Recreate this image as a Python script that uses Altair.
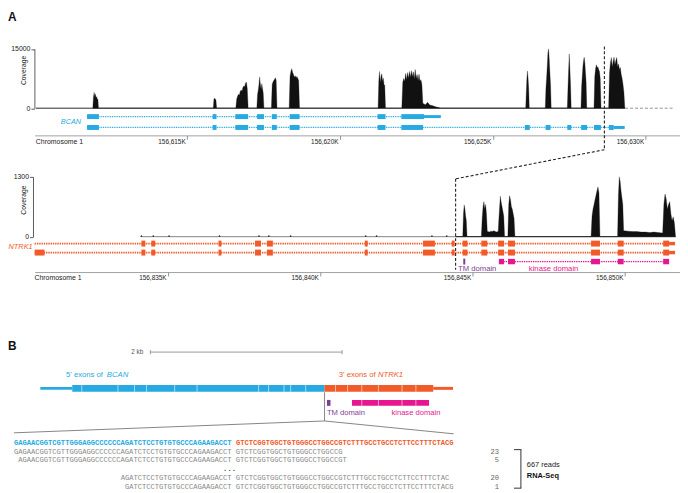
import altair as alt
import numpy as np
import pandas as pd

# ---------------------------------------------------------------- colours
BCAN_C = "#27aae1"
NTRK_C = "#f15a29"
TM_C = "#7e3f98"
KIN_C = "#e6168f"
INK = "#111111"
GREY = "#8a8a8a"

# ---------------------------------------------------------------- panel A, BCAN locus (kb on chromosome 1)
bcan_cov_peaks = [  # (start kb, end kb, coverage read along the peak)
    (156611.913, 156612.100, [0, 2800, 4000, 3000, 3600, 2700, 2900, 2400, 2200, 0]),
    (156615.854, 156615.964, [0, 2300, 2500, 2300, 2000, 0]),
    (156616.591, 156616.995, [0, 2300, 3000, 3500, 3300, 4200, 4600, 4300, 5200, 5600, 5400, 6300, 6600, 5000, 0]),
    (156617.279, 156617.512, [0, 3500, 4500, 6000, 7900, 6000, 4800, 6200, 5000, 3800, 0]),
    (156617.755, 156617.939, [0, 6000, 6600, 7000, 7300, 7700, 7000, 0]),
    (156618.337, 156618.676, [0, 8000, 9300, 10000, 9000, 8500, 7800, 8200, 7700, 8000, 7500, 7000, 0]),
    (156621.246, 156621.489, [0, 7000, 9300, 6500, 8000, 8700, 6800, 7600, 6000, 5800, 0]),
    (156622.022, 156622.711, [0, 6500, 7500, 6800, 8800, 7200, 9000, 7600, 9300, 7800, 9500, 8000,
                              9200, 7400, 9800, 7600, 8500, 7000, 8600, 6800, 7200, 6000, 1200]),
    (156622.720, 156623.300, [1200, 900, 1500, 800, 700, 500, 300, 150, 0]),
    (156626.076, 156626.193, [0, 4000, 7500, 9400, 7500, 5000, 0]),
    (156626.716, 156626.910, [0, 5000, 7500, 10500, 14000, 15000, 12500, 9000, 6000, 0]),
    (156627.437, 156627.564, [0, 5000, 9500, 13700, 10000, 6000, 0]),
    (156627.884, 156628.074, [0, 5500, 8000, 10500, 12000, 12900, 11500, 9000, 6500, 0]),
    (156628.310, 156628.540, [0, 8000, 10000, 11000, 10200, 10500, 9800, 9300, 7500, 0]),
    (156628.789, 156629.319, [0, 9000, 11500, 12800, 10500, 11800, 12900, 11000, 12000, 12800, 10500,
                              11200, 9800, 10300, 8500, 7500, 6000, 4000, 0]),
]
bcan_tx = [(1, 156611.725, 156623.299), (2, 156611.725, 156629.313)]
bcan_shared_exons = [(156611.725, 156612.113), (156615.831, 156615.960), (156616.575, 156616.995),
                     (156617.286, 156617.512), (156617.771, 156617.932), (156618.353, 156618.676),
                     (156621.230, 156621.489)]
bcan_tx1_exons = [(156622.006, 156622.749)]
bcan_tx1_utr = [(156622.749, 156623.299)]
bcan_tx2_exons = [(156622.006, 156622.717), (156626.047, 156626.209), (156626.726, 156626.888),
                  (156627.437, 156627.567), (156627.890, 156628.084), (156628.310, 156628.537),
                  (156628.795, 156628.957)]
bcan_tx2_utr = [(156628.957, 156629.313)]
bcan_baseline = (156610.05, 156629.33)
bcan_baseline_tail = (156629.33, 156630.95)
bcan_breakpoint = 156628.65
bcan_ticks = [156615, 156620, 156625, 156630]

# ---------------------------------------------------------------- panel A, NTRK1 locus
ntrk_cov_peaks = [
    (156844.675, 156844.815, [0, 500, 690, 600, 450, 350, 0]),
    (156845.285, 156845.480, [0, 400, 650, 760, 600, 700, 500, 110]),
    (156845.500, 156845.840, [110, 100, 120, 110, 130, 110, 100, 120]),
    (156845.853, 156846.048, [300, 600, 880, 750, 650, 550, 450, 0]),
    (156846.155, 156846.388, [0, 700, 890, 800, 650, 600, 500, 400, 0]),
    (156848.887, 156849.179, [0, 450, 600, 700, 800, 900, 1000, 1080, 950, 0]),
    (156849.757, 156849.957, [0, 900, 1300, 1200, 1000, 850, 700, 130]),
    (156849.970, 156851.230, [130, 120, 110, 110, 100, 100, 90, 100, 90, 80]),
    (156851.239, 156851.661, [90, 700, 925, 820, 600, 700, 760, 500, 350, 430, 300, 0]),
]
ntrk_blips = [156834.124, 156834.513, 156835.032, 156836.687, 156837.985, 156838.309,
              156839.023, 156841.489, 156841.846, 156843.663, 156844.150]
ntrk_blip_cov = 25
ntrk_tx = [(1, 156830.620, 156851.645), (2, 156830.620, 156851.645)]
ntrk_tx2_first = [(156830.620, 156830.944)]
ntrk_shared_exons = [(156834.124, 156834.254), (156834.448, 156834.578), (156836.655, 156836.752),
                     (156837.855, 156838.050), (156838.244, 156838.439), (156841.457, 156841.554),
                     (156843.371, 156843.760), (156844.312, 156844.409), (156844.669, 156844.831),
                     (156845.285, 156845.480), (156845.837, 156846.031), (156846.161, 156846.388),
                     (156848.887, 156849.179), (156849.763, 156849.957), (156851.255, 156851.450)]
ntrk_utr = [(156851.450, 156851.645)]
kinase_span = (156845.860, 156851.450)
kinase_blocks = [(156845.860, 156846.031), (156846.161, 156846.388), (156848.887, 156849.179),
                 (156849.763, 156849.957), (156851.255, 156851.450)]
tm_block = (156844.692, 156844.757)
ntrk_breakpoint = 156844.44
ntrk_ticks = [156835, 156840, 156845, 156850]

# ---------------------------------------------------------------- panel B, fusion transcript (bp)
fusion_segments = [("BCAN", 0, 333, "utr"), ("BCAN", 333, 2965, "cds"),
                   ("NTRK1", 2965, 4099, "cds"), ("NTRK1", 4099, 4305, "utr")]
fusion_exon_bounds = [433, 810, 983, 1109, 1402, 1635, 2278, 2382, 2542, 2612, 2769,
                      3079, 3206, 3354, 3526, 3773, 3918]
fusion_breakpoint = 2965
fusion_length = 4305
fusion_tm = (2990, 3027)
fusion_kinase = (3251, 4055)
fusion_kinase_bounds = [3354, 3526, 3773, 3918]
scale_bar = (1148, 3148)

ref_bcan = "GAGAACGGTCGTTGGGAGGCCCCCCAGATCTCCTGTGTGCCCAGAAGACCT"
ref_ntrk = "GTCTCGGTGGCTGTGGGCCTGGCCGTCTTTGCCTGCCTCTTCCTTTCTACG"
read_texts = [
    "GAGAACGGTCGTTGGGAGGCCCCCCAGATCTCCTGTGTGCCCAGAAGACCT GTCTCGGTGGCTGTGGGCCTGGCCG",
    "AGAACGGTCGTTGGGAGGCCCCCCAGATCTCCTGTGTGCCCAGAAGACCT GTCTCGGTGGCTGTGGGCCTGGCCGT",
    "AGATCTCCTGTGTGCCCAGAAGACCT GTCTCGGTGGCTGTGGGCCTGGCCGTCTTTGCCTGCCTCTTCCTTTCTAC",
    "GATCTCCTGTGTGCCCAGAAGACCT GTCTCGGTGGCTGTGGGCCTGGCCGTCTTTGCCTGCCTCTTCCTTTCTACG",
]
read_start_char = [0, 1, 25, 26]
read_row = [1, 2, 4, 5]
read_counts = ["23", "5", "20", "1"]
seq_line_chars = 103

# ---------------------------------------------------------------- layout (scale ranges, px)
W, H = 680, 485
X_RNG = [27, 680]
X1_DOM = [156610.011, 156631.124]
X2_DOM = [156830.620, 156851.807]
X3_DOM = [0, fusion_length]
X3_RNG = [32.7, 450.3]
X4_DOM = [0, seq_line_chars]
X4_RNG = [6, 450.96]


def qs(dom, rng):
    return alt.Scale(domain=dom, range=rng, nice=False, zero=False)


def peaks_frame(peaks):
    rows = []
    for s, e, vals in peaks:
        for x, v in zip(np.linspace(s, e, len(vals)), vals):
            rows.append({"pos": float(x), "cov": v})
    return pd.DataFrame(rows).sort_values("pos")


def seg_frame(segs, row, **extra):
    d = pd.DataFrame(segs, columns=["start", "end"])
    d["row"] = row
    for k, v in extra.items():
        d[k] = v
    return d


def gaxis(values, offset, title_x):
    return alt.Axis(values=values, orient="bottom", offset=offset,
                    labelExpr="format(datum.value, ',') + 'K'", labelAlign="right",
                    labelBaseline="middle", labelOffset=-2, labelPadding=2, labelFontSize=6.5,
                    labelColor="#222", labelFont="Liberation Sans", labelFlush=False,
                    labelOverlap=False, tickSize=4, tickColor="#777", tickWidth=0.8,
                    domainColor="#8a8a8a", domainWidth=0.8, grid=False, title="Chromosome 1",
                    titleX=title_x, titleY=6, titleAlign="left", titleBaseline="middle",
                    titleFontSize=7, titleFontWeight="normal", titleColor="#222",
                    titleFont="Liberation Sans")


def caxis(values, offset, title_x, title_y):
    return alt.Axis(values=values, orient="left", offset=offset, format="d",
                    labelFontSize=7, labelPadding=1, labelColor="#222", labelFont="Liberation Sans",
                    tickSize=3.5, tickColor="#333", tickWidth=0.8, domainColor="#333",
                    domainWidth=0.8, grid=False, title="Coverage", titleX=title_x, titleY=title_y,
                    titleAngle=270, titleAlign="center", titleBaseline="middle", titleFontSize=6.8,
                    titleFontWeight="normal", titleColor="#222", titleFont="Liberation Sans")


def label(text, x, y, size, color="#222", align="left", weight="normal", style="normal",
          font="Liberation Sans"):
    return alt.Chart(pd.DataFrame({"t": [text]})).mark_text(
        align=align, baseline="middle", fontSize=size, color=color, fontWeight=weight,
        fontStyle=style, font=font).encode(x=alt.value(x), y=alt.value(y), text="t:N")


def rules(df, xdom, ydom, yrng, width, color, dash=None, xrng=X_RNG):
    kw = dict(strokeWidth=width, color=color)
    if dash:
        kw["strokeDash"] = dash
    return alt.Chart(df).mark_rule(**kw).encode(
        x=alt.X("start:Q", scale=qs(xdom, xrng), axis=None),
        x2="end:Q",
        y=alt.Y("row:Q", scale=qs(ydom, yrng), axis=None))


layers = []

# ================= Panel A : BCAN
Y1COV = ([0, 15000], [98.5, 38.5])
Y1ROW = ([1, 2], [107, 118])
layers.append(alt.Chart(peaks_frame(bcan_cov_peaks)).mark_area(
    color=INK, interpolate="linear", stroke=INK, strokeWidth=0.3).encode(
    x=alt.X("pos:Q", scale=qs(X1_DOM, X_RNG), axis=gaxis(bcan_ticks, 126 - H, 27.7)),
    y=alt.Y("cov:Q", scale=qs(*Y1COV), stack=None, axis=caxis([0, 15000], -26.7, -11.4, 59.8))))
layers.append(rules(pd.DataFrame([{"start": bcan_baseline[0], "end": bcan_baseline[1], "row": 0}]),
                    X1_DOM, *Y1COV, 0.9, INK))
layers.append(rules(pd.DataFrame([{"start": bcan_baseline_tail[0], "end": bcan_baseline_tail[1], "row": 0}]),
                    X1_DOM, *Y1COV, 0.8, "#777", dash=[3, 2]))
layers.append(rules(pd.DataFrame(bcan_tx, columns=["row", "start", "end"]),
                    X1_DOM, *Y1ROW, 1.2, BCAN_C, dash=[1, 0.8]))
bcan_cds = pd.concat([seg_frame(bcan_shared_exons, 1), seg_frame(bcan_shared_exons, 2),
                      seg_frame(bcan_tx1_exons, 1), seg_frame(bcan_tx2_exons, 2)])
bcan_utr = pd.concat([seg_frame(bcan_tx1_utr, 1), seg_frame(bcan_tx2_utr, 2)])
layers.append(rules(bcan_cds, X1_DOM, *Y1ROW, 5, BCAN_C))
layers.append(rules(bcan_utr, X1_DOM, *Y1ROW, 3, BCAN_C))
layers.append(label("BCAN", 63.7, 112.7, 7.4, color=BCAN_C, align="center", style="italic"))
layers.append(label("A", 0, 6.5, 12, color="#111", weight="bold"))

# connector: BCAN breakpoint -> NTRK1 breakpoint
ntrk_bp_in_x1 = X1_DOM[0] + (ntrk_breakpoint - X2_DOM[0]) * (X1_DOM[1] - X1_DOM[0]) / (X2_DOM[1] - X2_DOM[0])
dash_kw = dict(strokeDash=[3, 2], strokeWidth=1.1, color="#222")
layers.append(alt.Chart(pd.DataFrame({"bp": [bcan_breakpoint]})).mark_rule(**dash_kw).encode(
    x=alt.X("bp:Q", scale=qs(X1_DOM, X_RNG), axis=None), y=alt.value(36), y2=alt.value(140.5)))
layers.append(alt.Chart(pd.DataFrame({"bp": [bcan_breakpoint], "bp2": [ntrk_bp_in_x1]})).mark_rule(**dash_kw).encode(
    x=alt.X("bp:Q", scale=qs(X1_DOM, X_RNG), axis=None), x2="bp2:Q", y=alt.value(140.5), y2=alt.value(170)))

# ================= Panel A : NTRK1
Y2COV = ([0, 1300], [228.5, 168])
Y2ROW = ([1, 3], [235.5, 253.7])
blip_peaks = [(c - 0.03, c + 0.03, [0, ntrk_blip_cov, ntrk_blip_cov, 0]) for c in ntrk_blips]
layers.append(alt.Chart(peaks_frame(blip_peaks + ntrk_cov_peaks)).mark_area(
    color=INK, interpolate="linear", stroke=INK, strokeWidth=0.3).encode(
    x=alt.X("pos:Q", scale=qs(X2_DOM, X_RNG), axis=gaxis(ntrk_ticks, 264.3 - H, 26.3)),
    y=alt.Y("cov:Q", scale=qs(*Y2COV), stack=None, axis=caxis([0, 1300], -25.3, -10, 191))))
layers.append(rules(pd.DataFrame([{"start": ntrk_breakpoint, "end": ntrk_cov_peaks[-1][1], "row": 0}]),
                    X2_DOM, *Y2COV, 0.9, INK))
layers.append(rules(pd.DataFrame(ntrk_tx, columns=["row", "start", "end"]),
                    X2_DOM, *Y2ROW, 1.8, NTRK_C, dash=[1.4, 0.9]))
ntrk_cds = pd.concat([seg_frame(ntrk_shared_exons, 1), seg_frame(ntrk_shared_exons, 2),
                      seg_frame(ntrk_tx2_first, 2)])
ntrk_utr_df = pd.concat([seg_frame(ntrk_utr, 1), seg_frame(ntrk_utr, 2)])
layers.append(rules(ntrk_cds, X2_DOM, *Y2ROW, 6, NTRK_C))
layers.append(rules(ntrk_utr_df, X2_DOM, *Y2ROW, 3.5, NTRK_C))
layers.append(rules(seg_frame([kinase_span], 3), X2_DOM, *Y2ROW, 1.4, KIN_C, dash=[1.4, 0.9]))
layers.append(rules(seg_frame(kinase_blocks, 3), X2_DOM, *Y2ROW, 5.5, KIN_C))
layers.append(rules(seg_frame([tm_block], 3), X2_DOM, *Y2ROW, 6, TM_C))
layers.append(label("NTRK1", 25, 238.7, 7.5, color=NTRK_C, align="right", style="italic"))
layers.append(label("TM domain", 455.3, 261.3, 7.8, color=TM_C))
layers.append(label("kinase domain", 527, 261.3, 7.8, color=KIN_C))
layers.append(alt.Chart(pd.DataFrame({"bp": [ntrk_breakpoint]})).mark_rule(**dash_kw).encode(
    x=alt.X("bp:Q", scale=qs(X2_DOM, X_RNG), axis=None), y=alt.value(170), y2=alt.value(262)))

# ================= Panel B : fusion transcript
Y3ROW = ([1, 2], [382, 396.7])
layers.append(label("B", 0, 339, 12, color="#111", weight="bold"))
sb = pd.DataFrame([{"start": scale_bar[0], "end": scale_bar[1]}])
layers.append(alt.Chart(sb).mark_rule(color="#999", strokeWidth=1).encode(
    x=alt.X("start:Q", scale=qs(X3_DOM, X3_RNG), axis=None), x2="end:Q", y=alt.value(345.3)))
layers.append(alt.Chart(pd.DataFrame({"bp": list(scale_bar)})).mark_rule(color="#999", strokeWidth=1).encode(
    x=alt.X("bp:Q", scale=qs(X3_DOM, X3_RNG), axis=None), y=alt.value(343.3), y2=alt.value(347.5)))
layers.append(label("2 kb", 137, 345.3, 6.5, color="#555", align="right"))
layers.append(label("5' exons of", 58.7, 368.7, 7.8, color=BCAN_C))
layers.append(label("BCAN", 100, 368.7, 7.8, color=BCAN_C, style="italic"))
layers.append(label("3' exons of", 334.7, 369, 7.8, color=NTRK_C))
layers.append(label("NTRK1", 374.3, 369, 7.8, color=NTRK_C, style="italic"))

fus = pd.DataFrame(fusion_segments, columns=["gene", "start", "end", "part"])
fus["row"] = 1
gene_color = alt.Color("gene:N", scale=alt.Scale(domain=["BCAN", "NTRK1"], range=[BCAN_C, NTRK_C]), legend=None)
for part, wdt in [("utr", 3), ("cds", 7)]:
    layers.append(alt.Chart(fus[fus.part == part]).mark_rule(strokeWidth=wdt).encode(
        x=alt.X("start:Q", scale=qs(X3_DOM, X3_RNG), axis=None), x2="end:Q",
        y=alt.Y("row:Q", scale=qs(*Y3ROW), axis=None), color=gene_color))
layers.append(alt.Chart(pd.DataFrame({"bp": fusion_exon_bounds, "row": 1})).mark_tick(
    color="white", thickness=0.8, size=7, orient="vertical").encode(
    x=alt.X("bp:Q", scale=qs(X3_DOM, X3_RNG), axis=None), y=alt.Y("row:Q", scale=qs(*Y3ROW), axis=None)))
layers.append(alt.Chart(seg_frame([fusion_tm], 2)).mark_rule(strokeWidth=6, color=TM_C).encode(
    x=alt.X("start:Q", scale=qs(X3_DOM, X3_RNG), axis=None), x2="end:Q",
    y=alt.Y("row:Q", scale=qs(*Y3ROW), axis=None)))
layers.append(alt.Chart(seg_frame([fusion_kinase], 2)).mark_rule(strokeWidth=6, color=KIN_C).encode(
    x=alt.X("start:Q", scale=qs(X3_DOM, X3_RNG), axis=None), x2="end:Q",
    y=alt.Y("row:Q", scale=qs(*Y3ROW), axis=None)))
layers.append(alt.Chart(pd.DataFrame({"bp": fusion_kinase_bounds, "row": 2})).mark_tick(
    color="white", thickness=0.8, size=6, orient="vertical").encode(
    x=alt.X("bp:Q", scale=qs(X3_DOM, X3_RNG), axis=None), y=alt.Y("row:Q", scale=qs(*Y3ROW), axis=None)))
layers.append(label("TM domain", 322.7, 407, 7.7, color=TM_C))
layers.append(label("kinase domain", 388, 407, 7.7, color=KIN_C))


# zoom wedge from breakpoint to sequence line ends
def char_to_bp(c):
    px = X4_RNG[0] + c * (X4_RNG[1] - X4_RNG[0]) / (X4_DOM[1] - X4_DOM[0])
    return X3_DOM[0] + (px - X3_RNG[0]) * (X3_DOM[1] - X3_DOM[0]) / (X3_RNG[1] - X3_RNG[0])


wedge_kw = dict(color="#777", strokeWidth=0.9)
layers.append(alt.Chart(pd.DataFrame({"bp": [fusion_breakpoint]})).mark_rule(**wedge_kw).encode(
    x=alt.X("bp:Q", scale=qs(X3_DOM, X3_RNG), axis=None), y=alt.value(386), y2=alt.value(415)))
layers.append(alt.Chart(pd.DataFrame({"a": [fusion_breakpoint], "b": [char_to_bp(0)]})).mark_rule(**wedge_kw).encode(
    x=alt.X("a:Q", scale=qs(X3_DOM, X3_RNG), axis=None), x2="b:Q", y=alt.value(415), y2=alt.value(427)))
layers.append(alt.Chart(pd.DataFrame({"a": [fusion_breakpoint], "b": [char_to_bp(seq_line_chars)]})).mark_rule(**wedge_kw).encode(
    x=alt.X("a:Q", scale=qs(X3_DOM, X3_RNG), axis=None), x2="b:Q", y=alt.value(415), y2=alt.value(428)))

# ================= Panel B : sequences
Y4 = ([0, 5], [437, 482])
ref_df = pd.DataFrame({"text": [ref_bcan, ref_ntrk], "start": [0, len(ref_bcan) + 1], "row": [0, 0],
                       "gene": ["BCAN", "NTRK1"]})
layers.append(alt.Chart(ref_df).mark_text(align="left", baseline="middle", font="Liberation Mono",
                                          fontSize=7.2, fontWeight="bold").encode(
    x=alt.X("start:Q", scale=qs(X4_DOM, X4_RNG), axis=None),
    y=alt.Y("row:Q", scale=qs(*Y4), axis=None), text="text:N", color=gene_color))
reads_df = pd.DataFrame({"text": read_texts, "start": read_start_char, "row": read_row, "count": read_counts})
layers.append(alt.Chart(reads_df).mark_text(align="left", baseline="middle", font="Liberation Mono",
                                            fontSize=7.2, color=GREY).encode(
    x=alt.X("start:Q", scale=qs(X4_DOM, X4_RNG), axis=None),
    y=alt.Y("row:Q", scale=qs(*Y4), axis=None), text="text:N"))
layers.append(alt.Chart(reads_df).mark_text(align="right", baseline="middle", font="Liberation Mono",
                                            fontSize=7.2, color="#666").encode(
    x=alt.value(497), y=alt.Y("row:Q", scale=qs(*Y4), axis=None), text="count:N"))
layers.append(alt.Chart(pd.DataFrame({"text": ["..."], "pos": [len(ref_bcan) - 0.5], "row": [3]})).mark_text(
    align="center", baseline="middle", font="Liberation Mono", fontSize=7.2, fontWeight="bold", color="#333").encode(
    x=alt.X("pos:Q", scale=qs(X4_DOM, X4_RNG), axis=None),
    y=alt.Y("row:Q", scale=qs(*Y4), axis=None), text="text:N"))
br_kw = dict(color="#333", strokeWidth=1)
layers.append(alt.Chart(pd.DataFrame({"r": [0]})).mark_rule(**br_kw).encode(
    x=alt.value(519), y=alt.value(444), y2=alt.value(483)))
layers.append(alt.Chart(pd.DataFrame({"r": [0]})).mark_rule(**br_kw).encode(
    x=alt.value(512), x2=alt.value(519.5), y=alt.value(444)))
layers.append(alt.Chart(pd.DataFrame({"r": [0]})).mark_rule(**br_kw).encode(
    x=alt.value(512), x2=alt.value(519.5), y=alt.value(483)))
layers.append(label("667 reads", 525, 460, 7.5, color="#222"))
layers.append(label("RNA-Seq", 525, 471, 7.5, color="#111", weight="bold"))

chart = alt.layer(*layers).resolve_scale(x="independent", y="independent").properties(
    width=W, height=H, autosize=alt.AutoSizeParams(type="none"), padding=0, background="white"
).configure_view(stroke=None).configure_text(font="Liberation Sans")

chart.save("out.html", embed_options={"renderer": "svg", "actions": False})
